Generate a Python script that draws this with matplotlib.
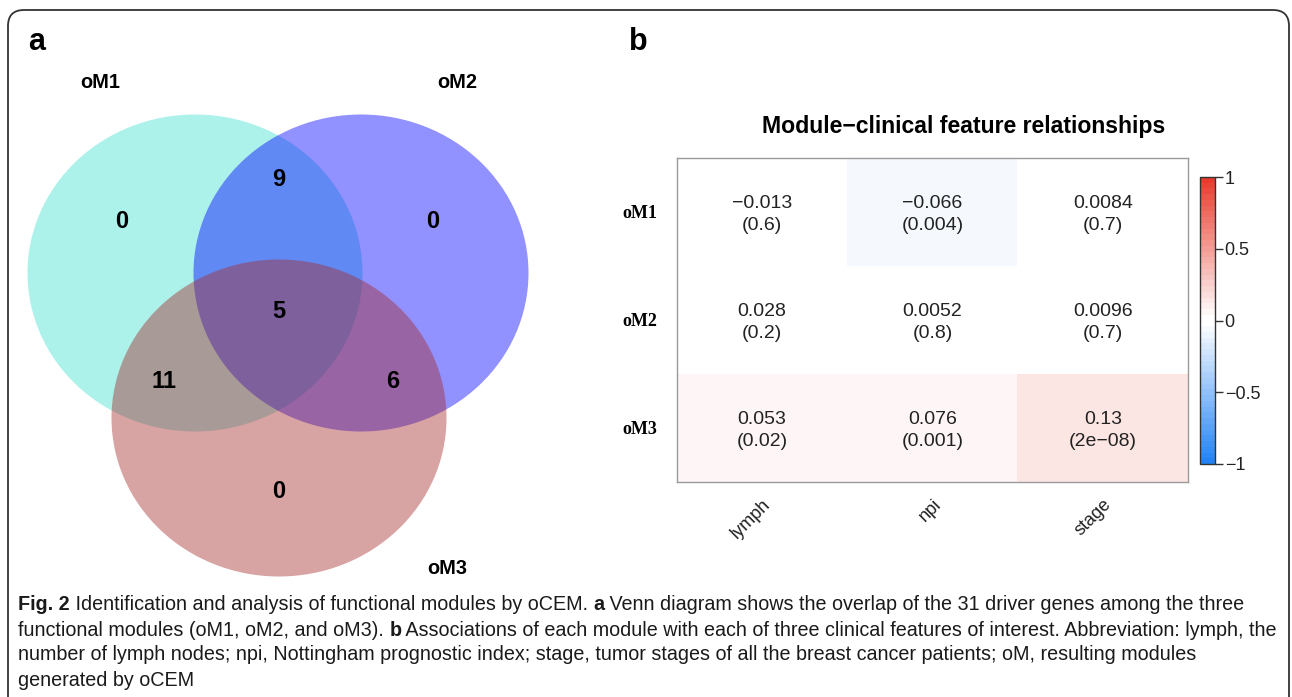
import numpy as np
import matplotlib
matplotlib.use("Agg")
import matplotlib.pyplot as plt
from matplotlib.patches import Ellipse, FancyBboxPatch
from matplotlib.colors import ListedColormap, to_rgb

# ---------------- data ----------------
venn_sets = ["oM1", "oM2", "oM3"]
venn_regions = ["100", "010", "001", "110", "101", "011", "111"]
venn_counts = [0, 0, 0, 9, 11, 6, 5]

modules = ["oM1", "oM2", "oM3"]
features = ["lymph", "npi", "stage"]
corr = [[-0.013, -0.066, 0.0084],
        [0.028, 0.0052, 0.0096],
        [0.053, 0.076, 0.13]]
pvals = [["0.6", "0.004", "0.7"],
         ["0.2", "0.8", "0.7"],
         ["0.02", "0.001", "2e\u221208"]]
cbar_ticks = [-1, -0.5, 0, 0.5, 1]
cbar_ticklabels = ["\u22121", "\u22120.5", "0", "0.5", "1"]

title = "Module\u2212clinical feature relationships"
caption_lines = [
    [("Fig. 2", "bold"), (" Identification and analysis of functional modules by oCEM. ", "normal"),
     ("a", "bold"), (" Venn diagram shows the overlap of the 31 driver genes among the three", "normal")],
    [("functional modules (oM1, oM2, and oM3). ", "normal"), ("b", "bold"),
     (" Associations of each module with each of three clinical features of interest. Abbreviation: lymph, the", "normal")],
    [("number of lymph nodes; npi, Nottingham prognostic index; stage, tumor stages of all the breast cancer patients; oM, resulting modules", "normal")],
    [("generated by oCEM", "normal")],
]

# ---------------- layout ----------------
W, H = 1292, 697
fig = plt.figure(figsize=(W / 100, H / 100), dpi=100)
renderer = fig.canvas.get_renderer()

bg = fig.add_axes([0, 0, 1, 1])
bg.set_xlim(0, W)
bg.set_ylim(H, 0)
bg.axis("off")

SANS = ["Liberation Sans", "DejaVu Sans"]
SERIF = ["Liberation Serif", "DejaVu Serif"]
CAP = ["Liberation Sans Narrow", "Liberation Sans", "DejaVu Sans"]


def fit(t, width):
    w = t.get_window_extent(renderer).width
    t.set_fontsize(t.get_fontsize() * width / w)
    return t


# frame
frame = FancyBboxPatch((8, 10), 1281, 720, boxstyle="round,pad=0,rounding_size=16",
                       fc="none", ec="#333333", lw=1.3, zorder=0)
bg.add_patch(frame)

# panel letters
bg.text(28, 42, "a", fontsize=22, fontweight="bold", family=SANS, ha="left", va="center")
bg.text(629, 42, "b", fontsize=22, fontweight="bold", family=SANS, ha="left", va="center")

# ---------------- Venn (panel a) ----------------
centers = {"oM1": (195, 273), "oM2": (361, 273), "oM3": (279, 418)}
colors = {"oM1": "#40E0D0", "oM2": "#0000FF", "oM3": "#A52A2A"}
for s in venn_sets:
    bg.add_patch(Ellipse(centers[s], 335, 317, fc=colors[s], ec="none", alpha=0.43, zorder=1))

set_label_pos = {"oM1": (100, 83), "oM2": (457, 83), "oM3": (447, 568)}
for s in venn_sets:
    t = bg.text(*set_label_pos[s], s, fontsize=12, fontweight="bold", family=SANS,
                ha="center", va="center", zorder=3)
    fit(t, 40)

region_pos = {"100": (122, 222), "010": (433, 222), "001": (279, 492),
              "110": (279, 180), "101": (164, 381), "011": (393, 381), "111": (279, 312)}
for r, c in zip(venn_regions, venn_counts):
    bg.text(*region_pos[r], str(c), fontsize=17, fontweight="bold", family=SANS,
            ha="center", va="center", zorder=3)

# ---------------- heatmap (panel b) ----------------
blue = np.array(to_rgb("#1E80F5"))
red = np.array(to_rgb("#E83728"))
white = np.ones(3)
ncol = 50
cols = []
for i in range(ncol):
    c = -1 + 2 * (i + 0.5) / ncol
    t = max(abs(c) - 1.0 / ncol, 0) / (1 - 1.0 / ncol)
    end = red if c > 0 else blue
    cols.append(white + (end - white) * t)
cmap = ListedColormap(cols)

hx0, hx1, hy0, hy1 = 677, 1188, 158, 482
ax = fig.add_axes([hx0 / W, 1 - hy1 / H, (hx1 - hx0) / W, (hy1 - hy0) / H])
im = ax.imshow(np.array(corr), cmap=cmap, vmin=-1, vmax=1, aspect="auto", interpolation="nearest")
for i in range(len(modules)):
    for j in range(len(features)):
        lab = f"{corr[i][j]:g}".replace("-", "\u2212")
        ax.text(j, i + 0.02, f"{lab}\n({pvals[i][j]})", ha="center", va="center",
                fontsize=14, family=SANS, color="#222222", linespacing=1.4)
ax.set_xticks(range(len(features)))
ax.set_xticklabels(features, rotation=45, ha="right", rotation_mode="anchor",
                   fontsize=13, family=SANS, color="#222222")
ax.set_yticks(range(len(modules)))
ax.set_yticklabels(modules, fontsize=13, fontweight="bold", family=SERIF)
ax.tick_params(axis="x", length=0, pad=10)
ax.tick_params(axis="y", length=0, pad=14)
for sp in ax.spines.values():
    sp.set_color("#9a9a9a")
    sp.set_linewidth(1.0)

# title
tt = bg.text(964, 126, title, fontsize=15, fontweight="bold", family=SANS, ha="center", va="center")
fit(tt, 408)

# colorbar
cx0, cx1, cy0, cy1 = 1200, 1215, 177, 464
cax = fig.add_axes([cx0 / W, 1 - cy1 / H, (cx1 - cx0) / W, (cy1 - cy0) / H])
cb = fig.colorbar(im, cax=cax, ticks=cbar_ticks)
cb.ax.set_yticklabels(cbar_ticklabels, fontsize=13, family=SANS, color="#222222")
cb.ax.tick_params(length=6, width=1.0, color="#333333", pad=1)
cb.outline.set_edgecolor("#333333")
cb.outline.set_linewidth(1.0)


# ---------------- caption ----------------
def line_width(pieces, size):
    total = 0
    for s, wt in pieces:
        t = bg.text(0, 0, s, fontsize=size, fontweight=wt, family=CAP)
        total += t.get_window_extent(renderer).width
        t.remove()
    return total


size = 12
size = min(size * 1244 / line_width(caption_lines[0], size),
           size * 1258 / line_width(caption_lines[1], size))
ys = [604, 630, 655, 680]
for pieces, y in zip(caption_lines, ys):
    x = 18
    for s, wt in pieces:
        t = bg.text(x, y, s, fontsize=size, fontweight=wt, family=CAP, ha="left", va="center",
                    color="#1a1a1a")
        x += t.get_window_extent(renderer).width

fig.savefig("out.png", dpi=100)
